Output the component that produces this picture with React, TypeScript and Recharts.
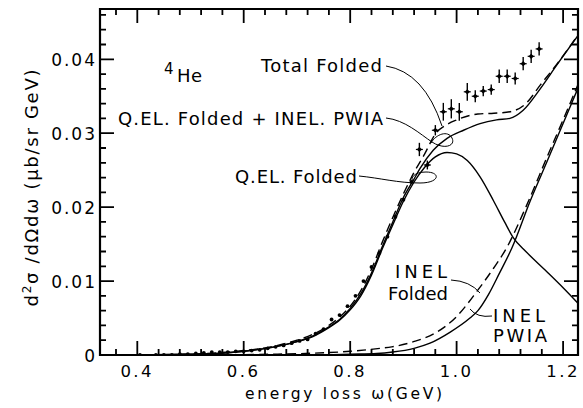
import React from 'react';
import { ComposedChart, Line, Scatter, XAxis, YAxis, ErrorBar } from 'recharts';

const FONT = "'DejaVu Sans', 'Liberation Sans', sans-serif";

// axis ranges and tick labels
const xDomain = [0.33, 1.228];
const yDomain = [0, 0.0468];
const xMajor = [0.4, 0.6, 0.8, 1.0, 1.2];
const xTicks = [0.36, 0.4, 0.44, 0.48, 0.52, 0.56, 0.6, 0.64, 0.68, 0.72, 0.76, 0.8, 0.84, 0.88, 0.92, 0.96, 1.0, 1.04, 1.08, 1.12, 1.16, 1.2];
const yMajor = [0, 0.01, 0.02, 0.03, 0.04];
const yTicks = [0, 0.002, 0.004, 0.006, 0.008, 0.01, 0.012, 0.014, 0.016, 0.018, 0.02, 0.022, 0.024, 0.026, 0.028, 0.03, 0.032, 0.034, 0.036, 0.038, 0.04, 0.042, 0.044, 0.046];

// Q.EL. Folded (solid)
const qelX = [0.40, 0.50, 0.55, 0.60, 0.65, 0.70, 0.73, 0.76, 0.78, 0.80, 0.82, 0.84, 0.86, 0.88, 0.90, 0.92, 0.94, 0.96, 0.982, 1.00, 1.02, 1.044, 1.069, 1.09, 1.107, 1.13, 1.169, 1.20, 1.228];
const qelY = [0.0000, 0.0001, 0.0002, 0.0005, 0.0010, 0.0018, 0.0025, 0.0037, 0.0047, 0.0061, 0.0080, 0.0108, 0.0143, 0.0176, 0.0208, 0.0234, 0.0254, 0.0268, 0.0274, 0.0272, 0.0263, 0.0241, 0.0209, 0.0180, 0.0158, 0.0140, 0.0113, 0.0091, 0.0070];

// Total Folded (dashed)
const totX = [0.40, 0.50, 0.55, 0.60, 0.65, 0.70, 0.73, 0.76, 0.78, 0.80, 0.82, 0.84, 0.86, 0.88, 0.90, 0.92, 0.94, 0.96, 0.98, 1.00, 1.04, 1.07, 1.10, 1.13, 1.157, 1.19, 1.228];
const totY = [0.0000, 0.0001, 0.0003, 0.0006, 0.0011, 0.0020, 0.0028, 0.0040, 0.0051, 0.0066, 0.0087, 0.0116, 0.0152, 0.0186, 0.0218, 0.0247, 0.0272, 0.0299, 0.0311, 0.0318, 0.0326, 0.0327, 0.0329, 0.0340, 0.0365, 0.0395, 0.0433];

// Q.EL. Folded + INEL. PWIA (solid)
const qpX = [0.40, 0.50, 0.55, 0.60, 0.65, 0.70, 0.73, 0.76, 0.78, 0.80, 0.82, 0.84, 0.86, 0.88, 0.90, 0.92, 0.931, 0.956, 0.982, 1.013, 1.044, 1.075, 1.10, 1.125, 1.157, 1.188, 1.228];
const qpY = [0.0000, 0.0001, 0.0002, 0.0005, 0.0010, 0.0018, 0.0026, 0.0038, 0.0048, 0.0063, 0.0083, 0.0111, 0.0146, 0.0180, 0.0213, 0.0238, 0.0252, 0.0277, 0.0293, 0.0304, 0.0313, 0.0318, 0.0320, 0.0331, 0.0360, 0.0392, 0.0432];

// INEL PWIA (solid)
const pwiaX = [0.75, 0.80, 0.85, 0.88, 0.92, 0.95, 0.988, 1.025, 1.04, 1.06, 1.08, 1.104, 1.138, 1.17, 1.20, 1.228];
const pwiaY = [0.0000, 0.0001, 0.0002, 0.0004, 0.0009, 0.0016, 0.0031, 0.0050, 0.0060, 0.0082, 0.0110, 0.0145, 0.0208, 0.0262, 0.0313, 0.0361];

// INEL Folded (dashed)
const inelFX = [0.55, 0.65, 0.75, 0.80, 0.856, 0.878, 0.919, 0.963, 1.00, 1.038, 1.069, 1.094, 1.13, 1.17, 1.20, 1.228];
const inelFY = [0.0000, 0.0001, 0.0003, 0.0005, 0.0009, 0.0011, 0.0018, 0.0031, 0.0052, 0.0086, 0.0117, 0.0145, 0.0200, 0.0268, 0.0318, 0.0366];

// measured points without visible error bars
const dotX = [0.405, 0.435, 0.45, 0.465, 0.48, 0.495, 0.51, 0.525, 0.54, 0.555, 0.57, 0.585, 0.60, 0.615, 0.63, 0.645, 0.66, 0.675, 0.69, 0.705, 0.72, 0.735, 0.75, 0.765, 0.78, 0.795, 0.81, 0.825, 0.84, 0.855, 0.87, 0.885, 0.90, 0.915];
const dotY = [0.0000, 0.0000, 0.0000, 0.0000, 0.0001, 0.0001, 0.0002, 0.0003, 0.0004, 0.0004, 0.0004, 0.0005, 0.0005, 0.0006, 0.0007, 0.0009, 0.0011, 0.0013, 0.0016, 0.0019, 0.0021, 0.0029, 0.0035, 0.0048, 0.0054, 0.0066, 0.0080, 0.0100, 0.0119, 0.0138, 0.0160, 0.0187, 0.0210, 0.0234];

// measured points with error bars
const errX = [0.93, 0.945, 0.96, 0.975, 0.99, 1.005, 1.02, 1.035, 1.05, 1.065, 1.08, 1.095, 1.11, 1.125, 1.14, 1.155];
const errY = [0.0278, 0.0257, 0.0304, 0.0329, 0.0333, 0.0329, 0.0356, 0.0350, 0.0357, 0.0359, 0.0377, 0.0377, 0.0374, 0.0394, 0.0404, 0.0414];
const errE = [0.0009, 0.0006, 0.0007, 0.0012, 0.0013, 0.0012, 0.0012, 0.0008, 0.0007, 0.0007, 0.0009, 0.0009, 0.0008, 0.0009, 0.0009, 0.0009];

// plot box, must agree with the chart margins / axis sizes below
const LEFT = 100, RIGHT = 578, TOP = 9, BOTTOM = 355;
const px = (v: number) => LEFT + ((v - xDomain[0]) / (xDomain[1] - xDomain[0])) * (RIGHT - LEFT);
const py = (v: number) => BOTTOM - ((v - yDomain[0]) / (yDomain[1] - yDomain[0])) * (BOTTOM - TOP);

const zip = (xs: number[], ys: number[]) => xs.map((x, i) => ({ x, y: ys[i] }));

const isMajor = (v: number, majors: number[]) => majors.some((m) => Math.abs(m - v) < 1e-9);

const XTickLabel = (props: any) => {
  const { x, y, payload } = props;
  if (!isMajor(payload.value, xMajor)) return <g />;
  return (
    <text x={x} y={y + 22} textAnchor="middle" fontSize={16.5} fontFamily={FONT} fill="#000" letterSpacing={2.5}>
      {payload.value.toFixed(1)}
    </text>
  );
};

const YTickLabel = (props: any) => {
  const { x, y, payload } = props;
  if (!isMajor(payload.value, yMajor)) return <g />;
  const v = payload.value;
  return (
    <text x={x - 3} y={y + 6.5} textAnchor="end" fontSize={17} fontFamily={FONT} fill="#000" letterSpacing={2}>
      {v === 0 ? '0' : v.toFixed(2)}
    </text>
  );
};

// frame with inward ticks on all four sides
const Frame = () => {
  const segs: string[] = [];
  xTicks.forEach((v) => {
    const l = isMajor(v, xMajor) ? 14 : 6;
    const x = px(v).toFixed(1);
    segs.push(`M${x},${BOTTOM}V${BOTTOM - l}`);
    segs.push(`M${x},${TOP}V${TOP + l}`);
  });
  yTicks.forEach((v) => {
    const l = isMajor(v, yMajor) ? 14 : 6;
    const y = py(v).toFixed(1);
    segs.push(`M${LEFT},${y}H${LEFT + l}`);
    segs.push(`M${RIGHT},${y}H${RIGHT - l}`);
  });
  return (
    <g>
      <path d={`M${LEFT},${TOP}H${RIGHT}V${BOTTOM}H${LEFT}Z`} fill="none" stroke="#000" strokeWidth={2.2} />
      <path d={segs.join('')} fill="none" stroke="#000" strokeWidth={1.8} />
    </g>
  );
};

const Annotations = () => (
  <svg width={583} height={408} style={{ position: 'absolute', left: 0, top: 0, pointerEvents: 'none' }}>
    <Frame />
    <g fontFamily={FONT} fill="#000" fontSize={18}>
      <text x={164} y={74} fontSize={15}>4</text>
      <text x={177} y={82} textLength={25} lengthAdjust="spacing">He</text>
      <text x={261} y={72} textLength={121} lengthAdjust="spacing">Total Folded</text>
      <text x={118} y={125} textLength={265} lengthAdjust="spacing">Q.EL. Folded + INEL. PWIA</text>
      <text x={235} y={183} textLength={122} lengthAdjust="spacing">Q.EL. Folded</text>
      <text x={395} y={278} textLength={52} lengthAdjust="spacing">INEL</text>
      <text x={388} y={300} textLength={60} lengthAdjust="spacing">Folded</text>
      <text x={493} y={322} textLength={52} lengthAdjust="spacing">INEL</text>
      <text x={493} y={342} textLength={54} lengthAdjust="spacing">PWIA</text>
      <text x={343.5} y={399} fontSize={15.5} textAnchor="middle" textLength={197} lengthAdjust="spacing">energy loss ω(GeV)</text>
      <text transform="translate(38,188) rotate(-90)" textAnchor="middle" textLength={237} lengthAdjust="spacing">
        d<tspan dy={-7} fontSize={12}>2</tspan><tspan dy={7}>σ /dΩdω (μb/sr GeV)</tspan>
      </text>
    </g>
    <g fill="none" stroke="#000" strokeWidth={1}>
      <path d="M386,66 Q424,72 442,126" />
      <path d="M386,118 C405,120 420,134 432,142 C444,150 456,146 452,138 C448,130 436,134 431,143" />
      <path d="M359,176 C380,178 398,183 420,183 C440,183 441,172 426,172 C414,172 410,178 413,182" />
      <path d="M451,280 Q470,281 480,293" />
      <path d="M492,316 Q477,318 470,309" />
    </g>
  </svg>
);

const DataPoint = (props: any) => {
  const { cx, cy } = props;
  return (
    <g>
      <path d={`M${cx},${cy - 2.6}L${cx + 2.6},${cy}L${cx},${cy + 2.6}L${cx - 2.6},${cy}Z`} fill="#000" />
      <line x1={cx - 3.5} y1={cy} x2={cx + 3.5} y2={cy} stroke="#000" strokeWidth={1.2} />
    </g>
  );
};

const Dot = (props: any) => <circle cx={props.cx} cy={props.cy} r={1.9} fill="#000" />;

export default function App() {
  const lineProps = {
    dataKey: 'y',
    type: 'monotone' as const,
    dot: false,
    stroke: '#000',
    strokeWidth: 1.4,
    isAnimationActive: false,
  };
  return (
    <div style={{ position: 'absolute', left: 0, top: 0, width: 583, height: 408, background: '#fff' }}>
      <ComposedChart width={583} height={408} margin={{ top: TOP, right: 583 - RIGHT, bottom: 0, left: 0 }}>
        <XAxis
          type="number"
          dataKey="x"
          domain={xDomain}
          ticks={xTicks}
          interval={0}
          allowDataOverflow
          height={408 - BOTTOM}
          tickSize={0}
          tickMargin={0}
          tickLine={false}
          axisLine={false}
          tick={XTickLabel}
        />
        <YAxis
          type="number"
          dataKey="y"
          domain={yDomain}
          ticks={yTicks}
          interval={0}
          allowDataOverflow
          width={LEFT}
          tickSize={0}
          tickMargin={0}
          tickLine={false}
          axisLine={false}
          tick={YTickLabel}
        />
        <Line {...lineProps} data={zip(qelX, qelY)} />
        <Line {...lineProps} data={zip(qpX, qpY)} />
        <Line {...lineProps} data={zip(totX, totY)} strokeDasharray="9 5" />
        <Line {...lineProps} data={zip(pwiaX, pwiaY)} />
        <Line {...lineProps} data={zip(inelFX, inelFY)} strokeDasharray="9 5" />
        <Scatter data={zip(dotX, dotY)} dataKey="y" shape={Dot} isAnimationActive={false} />
        <Scatter
          data={errX.map((x, i) => ({ x, y: errY[i], err: errE[i] }))}
          dataKey="y"
          shape={DataPoint}
          isAnimationActive={false}
        >
          <ErrorBar dataKey="err" direction="y" width={0} stroke="#000" strokeWidth={1.4} />
        </Scatter>
      </ComposedChart>
      <Annotations />
    </div>
  );
}
